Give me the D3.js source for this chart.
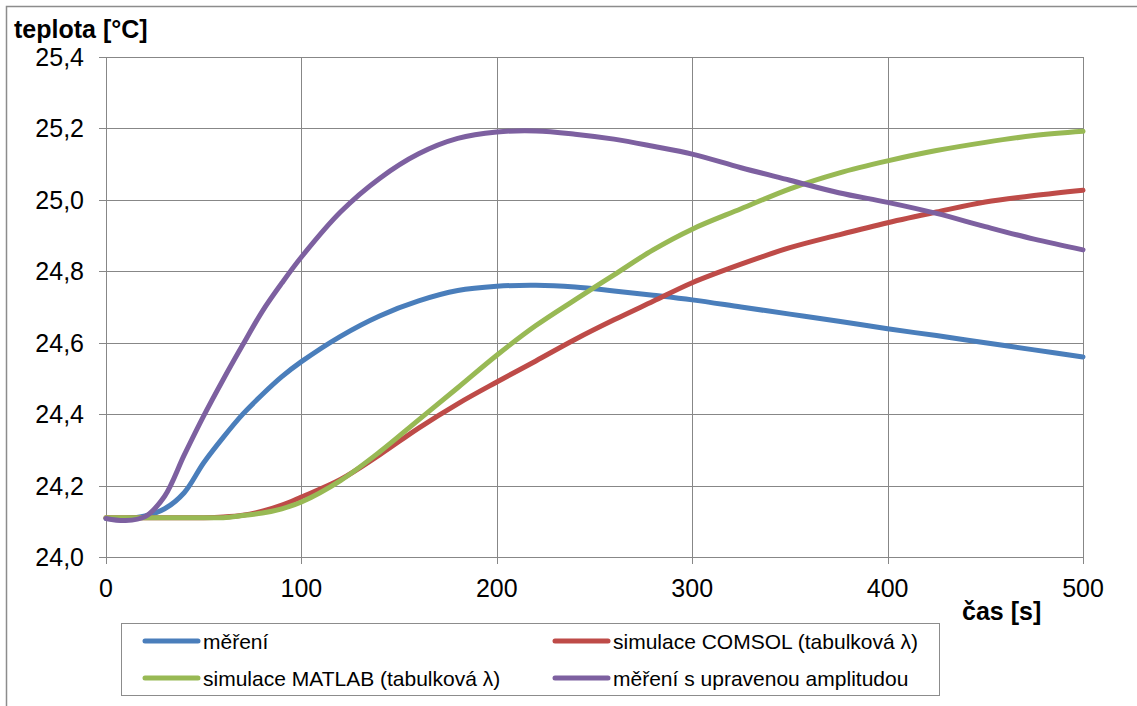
<!DOCTYPE html>
<html><head><meta charset="utf-8">
<script src="https://cdn.jsdelivr.net/npm/d3@7"></script>
<style>body{margin:0;background:#fff}svg{display:block;font-family:"Liberation Sans",Arial,sans-serif}</style>
</head><body><svg id="c" width="1137" height="706"></svg>
<script>
const times = [0,10,20,30,40,50,60,70,80,90,100,120,140,160,180,200,220,240,260,280,300,325,350,375,400,425,450,475,500];
const mereni = [24.108,24.108,24.115,24.135,24.18,24.264,24.335,24.40,24.455,24.505,24.547,24.618,24.675,24.717,24.746,24.758,24.761,24.756,24.745,24.733,24.72,24.70,24.68,24.66,24.639,24.62,24.60,24.58,24.56];
const comsol = [24.11,24.11,24.11,24.11,24.11,24.11,24.112,24.117,24.128,24.145,24.168,24.217,24.286,24.361,24.429,24.49,24.549,24.609,24.664,24.716,24.768,24.82,24.866,24.902,24.936,24.966,24.994,25.012,25.027];
const matlab = [24.11,24.11,24.11,24.11,24.11,24.11,24.11,24.116,24.123,24.135,24.154,24.214,24.294,24.384,24.474,24.565,24.648,24.72,24.79,24.86,24.918,24.975,25.031,25.075,25.109,25.138,25.161,25.18,25.192];
const upravena = [24.108,24.102,24.113,24.17,24.285,24.395,24.497,24.594,24.688,24.767,24.84,24.966,25.06,25.129,25.172,25.19,25.193,25.184,25.17,25.15,25.128,25.09,25.055,25.02,24.993,24.962,24.925,24.89,24.86];
const seriesNames = ["měření","simulace COMSOL (tabulková λ)","simulace MATLAB (tabulková λ)","měření s upravenou amplitudou"];
const seriesColors = ["#4a7ebb","#be4b48","#98b954","#7d60a0"];
const xTicks = [0,100,200,300,400,500];
const yTicks = [24.0,24.2,24.4,24.6,24.8,25.0,25.2,25.4];

const svg = d3.select("#c");
const L=106,R=1083,T=57,B=557;
const x = d3.scaleLinear().domain([0,500]).range([L,R]);
const y = d3.scaleLinear().domain([24.0,25.4]).range([B,T]);

svg.append("path").attr("d","M6.5,706 V6.5 H1137").attr("fill","none").attr("stroke","#8c8c8c").attr("stroke-width",1.5);

const g = svg.append("g");
g.selectAll(".hy").data(yTicks).join("line").attr("x1",L-7).attr("x2",R).attr("y1",d=>Math.round(y(d))+0.5).attr("y2",d=>Math.round(y(d))+0.5).attr("stroke","#878787").attr("stroke-width",1);
g.selectAll(".vx").data(xTicks).join("line").attr("y1",T).attr("y2",B+7).attr("x1",d=>Math.round(x(d))+0.5).attr("x2",d=>Math.round(x(d))+0.5).attr("stroke","#878787").attr("stroke-width",1);

const fmt = d=>d3.format(".1f")(d).replace(".",",");
svg.selectAll(".yl").data(yTicks).join("text").attr("x",84).attr("y",d=>y(d)+9).attr("text-anchor","end").attr("font-size",25).attr("fill","#000").text(fmt);
svg.selectAll(".xl").data(xTicks).join("text").attr("x",d=>x(d)).attr("y",597).attr("text-anchor","middle").attr("font-size",25).attr("fill","#000").text(d=>d);

svg.append("text").attr("x",14).attr("y",38).attr("font-size",25).attr("font-weight","bold").text("teplota [°C]");
svg.append("text").attr("x",962).attr("y",620).attr("font-size",25).attr("font-weight","bold").text("čas [s]");

const data = [mereni,comsol,matlab,upravena];
const line = d3.line().x((d,i)=>x(times[i])).y(d=>y(d)).curve(d3.curveCatmullRom.alpha(0.5));
[0,1,2,3].forEach(k=>{
  svg.append("path").attr("d",line(data[k])).attr("fill","none").attr("stroke",seriesColors[k]).attr("stroke-width",5).attr("stroke-linecap","round").attr("stroke-linejoin","round");
});

const lg = svg.append("g");
lg.append("rect").attr("x",121.5).attr("y",623.5).attr("width",818).attr("height",72).attr("fill","#fff").attr("stroke","#8c8c8c").attr("stroke-width",1);
const pos=[[145,641],[555,641],[145,678],[555,678]];
seriesNames.forEach((n,k)=>{
  const [px,py]=pos[k];
  lg.append("line").attr("x1",px).attr("x2",px+53).attr("y1",py).attr("y2",py).attr("stroke",seriesColors[k]).attr("stroke-width",5).attr("stroke-linecap","round");
  lg.append("text").attr("x",px+58).attr("y",py+8).attr("font-size",21).attr("fill","#000").text(n);
});
</script></body></html>
